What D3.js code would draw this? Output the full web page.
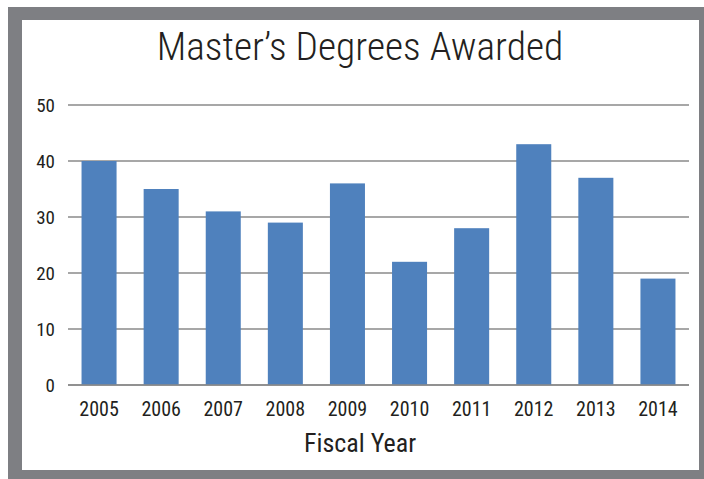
<!DOCTYPE html>
<html>
<head>
<meta charset="utf-8">
<script src="https://cdn.jsdelivr.net/npm/d3@7"></script>
<style>
  html, body { margin: 0; padding: 0; background: #fff; }
  text { font-family: "Roboto Condensed", "Roboto", sans-serif; fill: #231f20; }
</style>
</head>
<body>
<div id="chart"></div>
<script>
var years = ["2005", "2006", "2007", "2008", "2009", "2010", "2011", "2012", "2013", "2014"];
var degrees = [40, 35, 31, 29, 36, 22, 28, 43, 37, 19];
var yTicks = [0, 10, 20, 30, 40, 50];

var w = 704, h = 479;
var plotLeft = 68, plotRight = 689;
var plotTop = 105, plotBottom = 385;

var svg = d3.select("#chart").append("svg")
    .attr("width", w)
    .attr("height", h);

// gray frame round a white panel
svg.append("rect").attr("x", 0).attr("y", 0).attr("width", w).attr("height", h).attr("fill", "#fff");
svg.append("rect")
    .attr("x", 8).attr("y", 7).attr("width", w - 8).attr("height", h - 7)
    .attr("fill", "#7e7f83");
svg.append("rect")
    .attr("x", 22).attr("y", 20).attr("width", 677).attr("height", 450)
    .attr("fill", "#fff");

var x = d3.scaleBand()
    .domain(years)
    .range([plotLeft, plotRight])
    .paddingInner(0.436)
    .paddingOuter(0.218);

var y = d3.scaleLinear()
    .domain([0, 50])
    .range([plotBottom, plotTop]);

// gridlines
svg.append("g")
    .selectAll("line")
    .data(yTicks)
    .enter().append("line")
        .attr("x1", plotLeft)
        .attr("x2", plotRight)
        .attr("y1", function(d) { return y(d); })
        .attr("y2", function(d) { return y(d); })
        .attr("stroke", "#8a8a8a")
        .attr("stroke-width", 1.5);

// bars
svg.append("g")
    .selectAll("rect")
    .data(degrees)
    .enter().append("rect")
        .attr("x", function(d, i) { return x(years[i]); })
        .attr("y", function(d) { return y(d); })
        .attr("width", x.bandwidth())
        .attr("height", function(d) { return y(0) - y(d); })
        .attr("fill", "#4f81bd");

// baseline over the bars
svg.append("line")
    .attr("x1", plotLeft).attr("x2", plotRight)
    .attr("y1", y(0)).attr("y2", y(0))
    .attr("stroke", "#8a8a8a")
    .attr("stroke-width", 1.5);

// y axis labels
var yAxis = svg.append("g")
    .attr("transform", "translate(" + (plotLeft - 13) + ",0)")
    .call(d3.axisLeft(y).tickValues(yTicks).tickSize(0).tickPadding(0));
yAxis.select(".domain").remove();
yAxis.attr("font-family", null).attr("font-size", 19);
yAxis.selectAll("text")
    .attr("fill", "#231f20")
    .attr("x", 0);

// x axis labels
var xAxis = svg.append("g")
    .attr("transform", "translate(0," + (plotBottom + 17) + ")")
    .call(d3.axisBottom(x).tickSize(0).tickPadding(0));
xAxis.select(".domain").remove();
xAxis.attr("font-family", null).attr("font-size", 20);
xAxis.selectAll("text")
    .attr("fill", "#231f20");

// title
svg.append("text")
    .attr("x", 360)
    .attr("y", 60)
    .attr("text-anchor", "middle")
    .attr("font-size", 39.5)
    .attr("font-weight", 300)
    .text("Master\u2019s Degrees Awarded");

// x axis title
svg.append("text")
    .attr("x", 360)
    .attr("y", 452)
    .attr("text-anchor", "middle")
    .attr("font-size", 26)
    .text("Fiscal Year");
</script>
</body>
</html>
